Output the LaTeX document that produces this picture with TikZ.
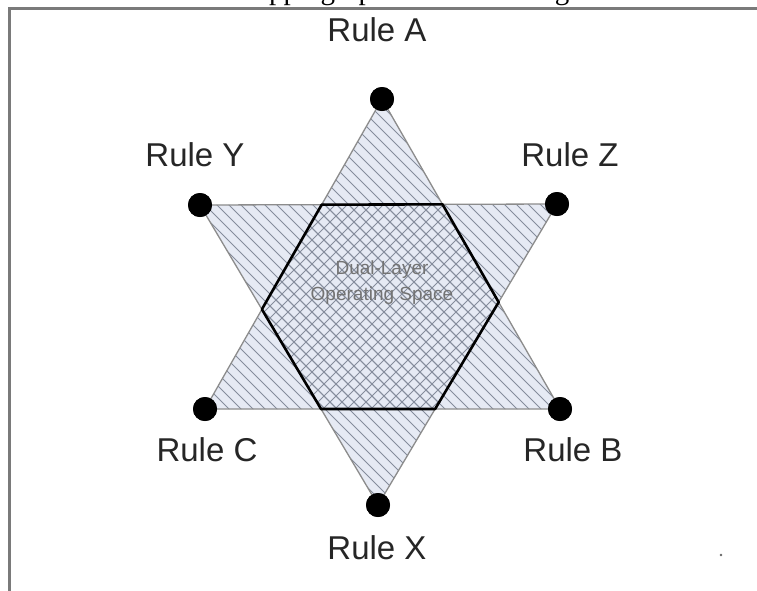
\documentclass[tikz,border=0pt]{standalone}
\usepackage{fontspec}
\setmainfont{Liberation Serif}
\newfontfamily\arialf{Liberation Sans}
\definecolor{fillc}{HTML}{E6EAF4}
\definecolor{hatchc}{HTML}{858C9C}
\definecolor{framec}{HTML}{7A7A7A}
\definecolor{edgec}{HTML}{8C8C8C}
\begin{document}
\begin{tikzpicture}[x=1pt,y=-1pt,
  lbl/.style={font=\arialf\fontsize{33}{36}\selectfont, text=black!85, inner sep=0pt},
  dotnode/.style={circle, fill=black, minimum size=24pt, inner sep=0pt},
  edgeline/.style={draw=edgec, line width=1.3pt},
  hexline/.style={draw=black, line width=2.6pt, line join=round},
  hatch/.style={draw=hatchc, line width=0.8pt}]
\useasboundingbox (0,0) rectangle (757,590);
\clip (0,0) rectangle (757,590);
\fill[white] (0,0) rectangle (757,590);
% partially visible title
\node[font=\fontsize{29}{30}\selectfont, anchor=base west, inner sep=0pt] (title) at (190,-1) {Overlapping Space of the Triangles};
% frame
\draw[framec, line width=3pt] (9,592) -- (9,8) -- (760,8);
% vertices
\coordinate (a) at (382,99);
\coordinate (b) at (560,409);
\coordinate (c) at (205,409);
\coordinate (y) at (200,205);
\coordinate (z) at (557,204);
\coordinate (x) at (378,505);
% hexagon corners
\coordinate (h1) at (intersection of a--c and y--z);
\coordinate (h2) at (intersection of a--b and y--z);
\coordinate (h3) at (intersection of a--b and z--x);
\coordinate (h4) at (intersection of b--c and z--x);
\coordinate (h5) at (intersection of b--c and y--x);
\coordinate (h6) at (intersection of a--c and y--x);
% fills
\fill[fillc] (a) -- (b) -- (c) -- cycle;
\fill[fillc] (y) -- (z) -- (x) -- cycle;
\begin{scope}
\clip (a) -- (b) -- (c) -- cycle;
\foreach \i in {-600,-588,...,1200} \draw[hatch] (\i,0) -- ++(620,620);
\end{scope}
\begin{scope}
\clip (y) -- (z) -- (x) -- cycle;
\foreach \i in {-600,-588,...,1200} \draw[hatch] (\i,0) -- ++(620,620);
\end{scope}
\begin{scope}
\clip (h1) -- (h2) -- (h3) -- (h4) -- (h5) -- (h6) -- cycle;
\foreach \i in {0,12,...,1400} \draw[hatch] (\i,0) -- ++(-620,620);
\end{scope}
% dots
\node[dotnode] (A) at (a) {};
\node[dotnode] (B) at (b) {};
\node[dotnode] (C) at (c) {};
\node[dotnode] (Y) at (y) {};
\node[dotnode] (Z) at (z) {};
\node[dotnode] (X) at (x) {};
% triangle edges
\draw[edgeline] (A.center) -- (B.center) -- (C.center) -- cycle;
\draw[edgeline] (Y.center) -- (Z.center) -- (X.center) -- cycle;
% hexagon
\draw[hexline] (h1) -- (h2) -- (h3) -- (h4) -- (h5) -- (h6) -- cycle;
% dots on top of edges
\foreach \p in {a,b,c,y,z,x} \fill (\p) circle (12pt);
% labels
\node[lbl] (LA) at (377,30) {Rule A};
\node[lbl] (LY) at (195,155) {Rule Y};
\node[lbl] (LZ) at (570,155) {Rule Z};
\node[lbl] (LC) at (207,450) {Rule C};
\node[lbl] (LB) at (573,450) {Rule B};
\node[lbl] (LX) at (377,548) {Rule X};
\node[font=\arialf\fontsize{19}{26}\selectfont, text=black!55, align=center, inner sep=0pt] (mid) at (382,283) {Dual-Layer\\Operating Space};
% speck
\fill[black!60] (721,555) circle (1.3pt);
\end{tikzpicture}
\end{document}
